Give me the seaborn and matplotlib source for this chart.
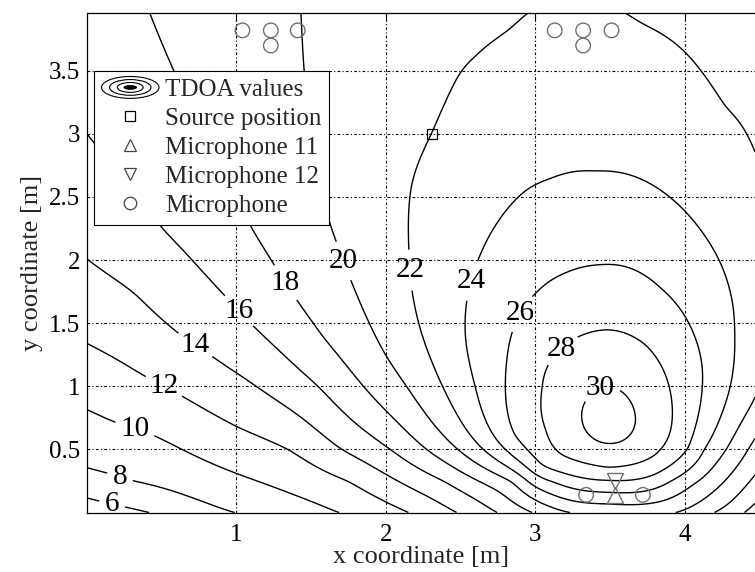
import numpy as np
import matplotlib
matplotlib.use("Agg")
import matplotlib.pyplot as plt
import seaborn as sns
from matplotlib.lines import Line2D
from matplotlib.patches import Ellipse
from matplotlib.legend_handler import HandlerBase

# ---------------- data ----------------
levels = [6, 8, 10, 12, 14, 16, 18, 20, 22, 24, 26, 28, 30]

# points where each TDOA contour passes (x [m], y [m]), one list per level
contour_x = [
    [0.0, 0.20, 0.42],
    [0.0, 0.30, 0.60, 0.98],
    [0.0, 0.44, 1.0, 1.68],
    [0.0, 0.37, 0.64, 1.0, 1.35, 1.75, 2.15],
    [0.0, 0.32, 0.63, 0.81, 1.05, 1.17, 1.70, 2.08, 2.47],
    [0.0, 0.50, 0.66, 0.945, 1.10, 1.55, 2.03, 2.39, 2.74, 4.41],
    [0.42, 0.58, 1.10, 1.26, 1.37, 1.59, 1.85, 2.27, 2.62, 2.98, 4.20, 4.47],
    [1.44, 1.45, 1.625, 1.67, 1.77, 2.0, 2.14, 2.48, 2.85, 3.22, 3.95, 4.47],
    [2.16, 2.16, 2.17, 2.23, 2.38, 2.31, 2.495, 2.60, 2.82, 3.71, 4.0, 4.27,
     4.47, 2.65, 3.0, 3.49, 4.05, 4.28, 4.47],
    [3.40, 3.10, 2.94, 2.76, 2.62, 2.54, 2.53, 2.60, 4.0, 4.29, 4.33, 2.80,
     3.12, 3.49, 3.90, 4.12],
    [3.43, 3.21, 3.0, 2.84, 2.81, 2.80, 2.86, 3.05, 3.49, 3.80, 4.03, 3.84,
     4.12],
    [3.30, 3.50, 3.06, 3.05, 3.08, 3.18, 3.49, 3.80, 3.91, 3.75],
    [3.31, 3.36, 3.49, 3.67, 3.58, 3.45],
]
contour_y = [
    [0.12, 0.06, 0.0],
    [0.35, 0.25, 0.16, 0.0],
    [0.82, 0.62, 0.31, 0.0],
    [1.34, 1.09, 0.92, 0.68, 0.50, 0.25, 0.0],
    [2.0, 1.74, 1.40, 1.26, 1.07, 0.97, 0.50, 0.25, 0.0],
    [2.97, 2.25, 2.06, 1.69, 1.49, 1.0, 0.50, 0.25, 0.0, 0.0],
    [3.96, 3.5, 2.25, 1.95, 1.74, 1.37, 1.0, 0.50, 0.25, 0.0, 0.0, 0.30],
    [3.96, 3.5, 2.27, 2.15, 1.83, 1.24, 1.0, 0.50, 0.25, 0.0, 0.0, 0.60],
    [2.60, 2.07, 1.78, 1.45, 1.0, 3.0, 3.5, 3.61, 3.81, 3.87, 3.65, 3.19,
     2.85, 0.50, 0.20, 0.07, 0.22, 0.50, 0.90],
    [2.70, 2.64, 2.56, 2.32, 2.0, 1.68, 1.37, 1.0, 2.39, 1.79, 1.40, 0.50,
     0.25, 0.16, 0.25, 0.50],
    [1.96, 1.90, 1.73, 1.42, 1.18, 1.0, 0.60, 0.36, 0.26, 0.30, 0.50, 1.77,
     1.16],
    [1.40, 1.45, 1.13, 0.97, 0.66, 0.45, 0.35, 0.45, 0.89, 1.32],
    [0.82, 0.62, 0.55, 0.76, 0.95, 0.98],
]

# estimated TDOA values off the contour lines (peak, corners, top edge)
extra_x = [3.49, 0.0, 0.0, 4.47, 4.47, 0.0, 2.2, 4.47, 3.25]
extra_y = [0.76, 0.0, 3.96, 3.96, 0.0, 2.5, 3.96, 1.9, 3.96]
extra_v = [31.3, 5.0, 17.0, 21.0, 15.0, 15.0, 21.0, 23.2, 22.2]

# peak of the TDOA surface, read from the innermost loop
peak_x, peak_y, peak_v = 3.49, 0.76, 31.3

mic_x = [1.04, 1.23, 1.41, 1.23, 3.13, 3.32, 3.51, 3.32, 3.34, 3.72]
mic_y = [3.82, 3.82, 3.82, 3.70, 3.82, 3.82, 3.82, 3.70, 0.14, 0.14]
mic11_x, mic11_y = [3.53], [0.14]
mic12_x, mic12_y = [3.53], [0.25]
source_x, source_y = [2.31], [3.0]

xticks = [1, 2, 3, 4]
xticklabels = ["1", "2", "3", "4"]
yticks = [0.5, 1.0, 1.5, 2.0, 2.5, 3.0, 3.5]
yticklabels = ["0.5", "1", "1.5", "2", "2.5", "3", "3.5"]
legend_labels = ["TDOA values", "Source position", "Microphone 11",
                 "Microphone 12", "Microphone"]

# label placement (layout only)
label_pos = [(0.17, 0.08), (0.22, 0.28), (0.32, 0.66), (0.51, 0.99),
             (0.72, 1.32), (1.0, 1.58), (1.34, 1.83), (1.71, 1.99),
             (2.16, 1.92), (2.56, 1.84), (2.90, 1.58), (3.16, 1.31),
             (3.44, 0.97)]

XLIM = (0.0, 4.47)
YLIM = (0.0, 3.96)

# ---------------- smooth field through the read contour points ----------------
px, py, pv = [], [], []
for lev, xs, ys in zip(levels, contour_x, contour_y):
    px += xs
    py += ys
    pv += [lev] * len(xs)
px = np.array(px + extra_x, float)
py = np.array(py + extra_y, float)
pv = np.array(pv + extra_v, float)

X_SCALE, Y_SHIFT, SLOPE = 0.80, 0.5, 7.5


def to_space(x, y):
    return x / X_SCALE, np.log(y + Y_SHIFT)


def base(x, y):
    # conical trend around the peak
    u, s = to_space(x, y)
    u0, s0 = to_space(peak_x, peak_y)
    return peak_v - SLOPE * np.hypot(u - u0, s - s0)


def kern(r):
    with np.errstate(divide="ignore", invalid="ignore"):
        k = r * r * np.log(r)
    return np.nan_to_num(k)


pu, ps = to_space(px, py)
res = pv - base(px, py)
n = len(pu)
K = kern(np.hypot(pu[:, None] - pu[None, :], ps[:, None] - ps[None, :])) + 0.02 * np.eye(n)
P = np.column_stack([np.ones(n), pu, ps])
A = np.block([[K, P], [P.T, np.zeros((3, 3))]])
sol = np.linalg.solve(A, np.concatenate([res, np.zeros(3)]))
w, a = sol[:n], sol[n:]

gx = np.linspace(XLIM[0], XLIM[1], 360)
gy = np.linspace(YLIM[0], YLIM[1], 330)
GX, GY = np.meshgrid(gx, gy)
GU, GS = to_space(GX, GY)
Z = base(GX, GY) + a[0] + a[1] * GU + a[2] * GS
for i in range(n):
    Z += w[i] * kern(np.hypot(GU - pu[i], GS - ps[i]))

# ---------------- styling ----------------
sns.set_theme(style="white")
plt.rcParams["font.family"] = ["Liberation Serif", "DejaVu Serif"]
plt.rcParams["axes.edgecolor"] = "black"
plt.rcParams["axes.linewidth"] = 0.9

fig = plt.figure(figsize=(7.55, 5.72), dpi=100)
ax = fig.add_axes([87 / 755, 1 - 512.5 / 572, 668 / 755, 499.8 / 572])

ax.set_xlim(*XLIM)
ax.set_ylim(*YLIM)
ax.set_xticks(xticks)
ax.set_xticklabels(xticklabels)
ax.set_yticks(yticks)
ax.set_yticklabels(yticklabels)
ax.tick_params(direction="in", length=4, width=0.8, colors="black",
               labelsize=18, top=True, right=False)
ax.tick_params(axis="x", pad=8)
ax.tick_params(axis="y", pad=5)
ax.grid(True, color="black", linestyle=(0, (2.5, 2.0, 1.0, 2.0)), linewidth=0.8)
ax.set_axisbelow(True)
ax.spines["right"].set_visible(False)

cs = ax.contour(GX, GY, Z, levels=levels, colors="black", linewidths=1.0)
ax.clabel(cs, inline=True, fmt="%d", fontsize=21, manual=label_pos,
          inline_spacing=6)
for t in cs.labelTexts:
    t.set_rotation(0)

gray = "#707070"
sns.scatterplot(x=mic_x, y=mic_y, marker="o", s=110, facecolor="none",
                edgecolor=gray, linewidth=1.0, ax=ax, legend=False, zorder=5)
ax.plot(mic11_x, mic11_y, linestyle="none", marker="^", markersize=11,
        markerfacecolor="none", markeredgecolor=gray, markeredgewidth=1.0, zorder=6)
ax.plot(mic12_x, mic12_y, linestyle="none", marker="v", markersize=11,
        markerfacecolor="none", markeredgecolor=gray, markeredgewidth=1.0, zorder=6)
ax.plot(source_x, source_y, linestyle="none", marker="s", markersize=7,
        markerfacecolor="none", markeredgecolor="black", markeredgewidth=0.9, zorder=6)

ax.set_xlabel("x coordinate [m]", fontsize=19, labelpad=0)
ax.set_ylabel("y coordinate [m]", fontsize=19, labelpad=4)


# ---------------- legend ----------------
class EllipseIcon:
    pass


class HandlerEllipses(HandlerBase):
    def create_artists(self, legend, orig_handle, xdescent, ydescent,
                       width, height, fontsize, trans):
        cx = 0.5 * width - xdescent
        cy = 0.5 * height - ydescent
        arts = []
        for f in (1.0, 0.72, 0.45):
            arts.append(Ellipse((cx, cy), width * f, height * 1.25 * f,
                                fill=False, ec="black", lw=0.8, transform=trans))
        arts.append(Ellipse((cx, cy), width * 0.22, height * 0.22,
                            fill=True, fc="black", ec="black", lw=0.6,
                            transform=trans))
        return arts


handles = [
    EllipseIcon(),
    Line2D([], [], linestyle="none", marker="s", markersize=7,
           markerfacecolor="none", markeredgecolor="black", markeredgewidth=0.9),
    Line2D([], [], linestyle="none", marker="^", markersize=9,
           markerfacecolor="none", markeredgecolor="#444444", markeredgewidth=0.9),
    Line2D([], [], linestyle="none", marker="v", markersize=9,
           markerfacecolor="none", markeredgecolor="#444444", markeredgewidth=0.9),
    Line2D([], [], linestyle="none", marker="o", markersize=9,
           markerfacecolor="none", markeredgecolor="#444444", markeredgewidth=0.9),
]
leg = ax.legend(handles, legend_labels, handler_map={EllipseIcon: HandlerEllipses()},
                loc="upper left", bbox_to_anchor=(0.0105, 0.883), borderaxespad=0,
                fontsize=18, frameon=True, fancybox=False, framealpha=1,
                edgecolor="black", handlelength=2.3, handletextpad=0.25,
                labelspacing=0.26, borderpad=0.3)
leg.get_frame().set_linewidth(0.8)
leg.set_zorder(10)

fig.savefig("out.png", dpi=100)
